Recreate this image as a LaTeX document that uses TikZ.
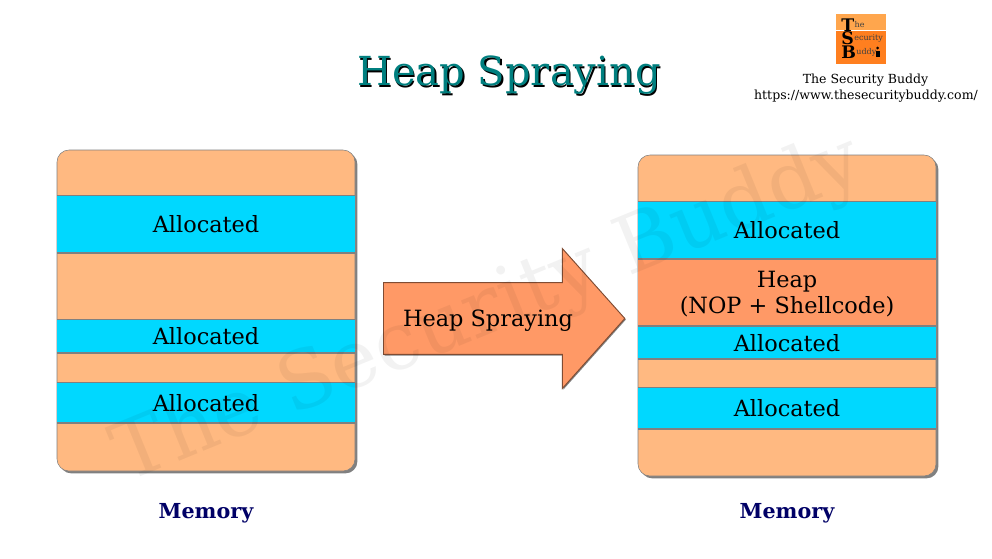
\documentclass[tikz,border=0pt]{standalone}
\usepackage{fontspec}
\setmainfont{DejaVu Serif}
\usetikzlibrary{positioning, shadows, shapes.arrows}

\definecolor{freecol}{HTML}{FFB981}
\definecolor{alloccol}{HTML}{00D8FF}
\definecolor{heapcol}{HTML}{FF9966}
\definecolor{titlecol}{HTML}{007F7F}
\definecolor{memcol}{HTML}{000066}
\definecolor{logolight}{HTML}{FFA64D}
\definecolor{logodark}{HTML}{FF7F1F}

\tikzset{
    membox/.style={draw=gray, fill=freecol, rounded corners=9pt, inner sep=0pt, outer sep=0pt, minimum width=223.5pt, minimum height=240.75pt, drop shadow={shadow xshift=1.8pt, shadow yshift=-1.8pt, fill=gray, opacity=1}},
    memcell/.style={inner sep=0pt, outer sep=0pt, minimum width=223.5pt, align=center, font=\fontsize{16.8pt}{19.5pt}\selectfont, path picture={
        \draw[gray, line width=1.2pt] (path picture bounding box.north west) -- (path picture bounding box.north east);
        \draw[gray, line width=2pt] (path picture bounding box.south west) -- (path picture bounding box.south east);}},
    alloc/.style={memcell, fill=alloccol},
    heap/.style={memcell, fill=heapcol},
    memlabel/.style={text=memcol, font=\fontsize{15.5pt}{18pt}\selectfont\bfseries},
    logobig/.style={anchor=west, inner sep=0pt, font=\fontsize{13pt}{13pt}\selectfont\bfseries},
    logosmall/.style={right=0pt of #1, inner sep=0pt, text=black!75, font=\fontsize{6pt}{6pt}\selectfont}
}

\begin{document}
\begin{tikzpicture}[x=0.75pt, y=-0.75pt]
        \useasboundingbox (0,0) rectangle (992,558);

        \node[text=titlecol, font=\fontsize{30pt}{36pt}\selectfont] (title) at (509,76) {\makebox[0pt][l]{\raisebox{-1.1pt}{\hspace{1.1pt}\color{black}Heap Spraying}}Heap Spraying};

        % left stack
        \node[membox] (leftmem) at (206,310.5) {};
        \node[alloc, minimum height=43.5pt] (lefta) at (206,224.3) {Allocated};
        \node[alloc, minimum height=25.5pt, below=49.5pt of lefta] (leftb) {Allocated};
        \node[alloc, minimum height=30.75pt, below=21.75pt of leftb] (leftc) {Allocated};
        \node[memlabel, below=20.75pt of leftmem] (leftlabel) {Memory};

        % right stack
        \node[membox] (rightmem) at (787,315.5) {};
        \node[alloc, minimum height=43.5pt] (righta) at (787,230.3) {Allocated};
        \node[heap, minimum height=50.25pt, text height=34pt, below=0pt of righta] (rightheap) {Heap\\(NOP + Shellcode)};
        \node[alloc, minimum height=24.75pt, below=0pt of rightheap] (rightb) {Allocated};
        \node[alloc, minimum height=31.5pt, below=21pt of rightb] (rightc) {Allocated};
        \node[memlabel, below=17pt of rightmem] (rightlabel) {Memory};

        \node[single arrow, anchor=tail, draw=heapcol!50!black, fill=heapcol, line width=0.7pt, minimum height=181pt, text height=12pt, text depth=4pt, inner xsep=0pt, inner ysep=18.6pt, single arrow head extend=25.5pt, single arrow tip angle=96.5, drop shadow={shadow xshift=0.8pt, shadow yshift=-0.8pt, fill=gray, opacity=1}] (sprayarrow) at (383,318.5) {};
        \node[font=\fontsize{16.8pt}{20pt}\selectfont] (spraytext) at (488,320.5) {Heap Spraying};

        % logo
        \node[fill=logolight, minimum width=37.5pt, minimum height=12.5pt, inner sep=0pt] (logotop) at (861,22) {};
        \node[fill=logodark, minimum width=37.5pt, minimum height=25pt, below=0pt of logotop, inner sep=0pt] (logobottom) {};
        \node[logobig] (logot) at (841,25) {T};
        \node[logobig] (logos) at (841,38.5) {S};
        \node[logobig] (logob) at (841,52) {B};
        \node[logosmall=logot] (logohe) {he};
        \node[logosmall=logos] (logoec) {ecurity};
        \node[logosmall=logob] (logoud) {uddy};
        \fill (875.5,50.5) rectangle (880,57);
        \fill (877.7,48) circle (1.5);

        \node[font=\fontsize{9.4pt}{11pt}\selectfont] (brand) at (865.5,80) {The Security Buddy};
        \node[font=\fontsize{9.4pt}{11pt}\selectfont] (site) at (866,96) {https://www.thesecuritybuddy.com/};

        % watermark
        \node[rotate=22.3, opacity=0.05, font=\fontsize{60pt}{62pt}\selectfont] (mark) at (489,311) {The Security Buddy};
    \end{tikzpicture}
\end{document}
